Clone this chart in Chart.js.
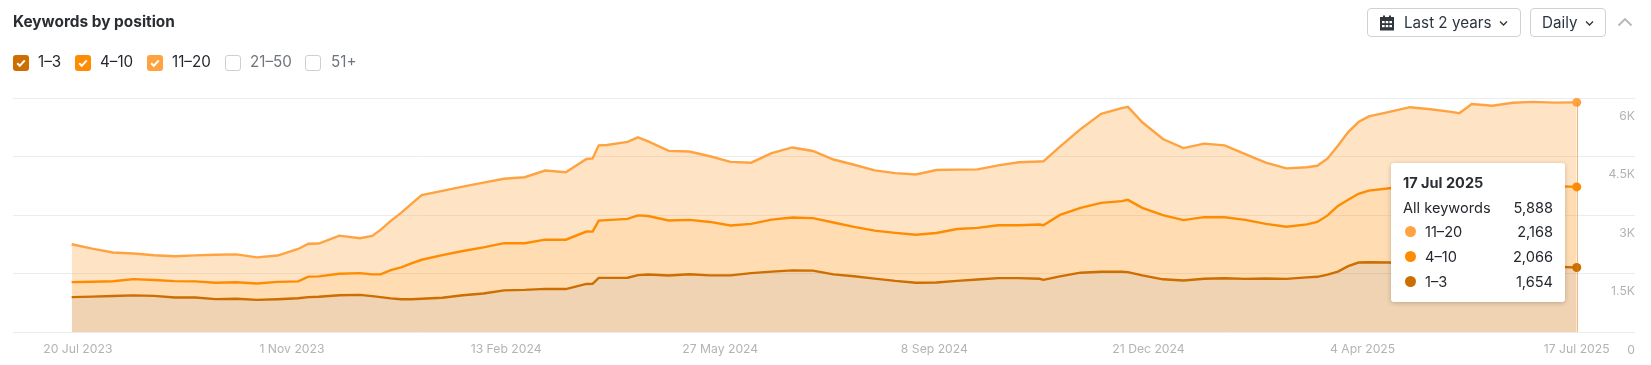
<!DOCTYPE html>
<html><head><meta charset="utf-8">
<script src="https://cdn.jsdelivr.net/npm/chart.js@4"></script>
<style>
html,body{margin:0;padding:0;background:#fff;width:1651px;height:365px;overflow:hidden;font-family:Inter,sans-serif;color:#24282e}
#c{position:absolute;left:0;top:0}
.abs{position:absolute}
#title{left:13px;top:13px;font-size:15.4px;font-weight:700;line-height:18px;color:#2a2e33;white-space:nowrap}
.box{position:absolute;top:55px;width:16px;height:16px;border-radius:3px;box-sizing:border-box}
.box svg{display:block}
.lg{position:absolute;top:53px;font-size:15.2px;line-height:18px;white-space:nowrap}
.btn{position:absolute;top:8px;height:29px;box-sizing:border-box;border:1px solid #cfd1d4;border-radius:4px;background:#fff;font-size:15.2px;line-height:27px;white-space:nowrap;color:#2b3440}
#tip{position:absolute;left:1391px;top:163px;width:174px;height:139px;background:#fff;border-radius:3px;box-shadow:0 1px 5px rgba(0,0,0,.22);font-size:14.6px}
#tip div{position:absolute;white-space:nowrap;line-height:18px}
</style></head><body>
<canvas id="c" width="1651" height="365"></canvas>
<div id="title" class="abs">Keywords by position</div>
<div id="legend"></div>
<div class="btn" style="left:1367px;width:154px">
  <svg class="abs" style="left:11px;top:6px" width="16" height="16" viewBox="0 0 16 16"><path fill="#33373c" d="M1 2h3V0.5h2V2h4V0.5h2V2h3v13.5H1z"/><g fill="#fff"><rect x="3" y="6" width="2.6" height="2.2"/><rect x="6.7" y="6" width="2.6" height="2.2"/><rect x="10.4" y="6" width="2.6" height="2.2"/><rect x="3" y="10" width="2.6" height="2.2"/><rect x="6.7" y="10" width="2.6" height="2.2"/><rect x="10.4" y="10" width="2.6" height="2.2"/></g></svg>
  <span class="abs" style="left:36px;top:0">Last 2 years</span>
  <svg class="abs" style="left:131px;top:11px" width="9" height="7" viewBox="0 0 9 7"><path d="M1 1.5l3.5 3.5 3.5-3.5" fill="none" stroke="#333" stroke-width="1.3"/></svg>
</div>
<div class="btn" style="left:1530px;width:76px">
  <span class="abs" style="left:11px;top:0">Daily</span>
  <svg class="abs" style="left:54px;top:11px" width="9" height="7" viewBox="0 0 9 7"><path d="M1 1.5l3.5 3.5 3.5-3.5" fill="none" stroke="#333" stroke-width="1.3"/></svg>
</div>
<svg class="abs" style="left:1617px;top:17px" width="16" height="10" viewBox="0 0 16 10"><path d="M1.5 8.5L8 2l6.5 6.5" fill="none" stroke="#b4b6b8" stroke-width="1.8"/></svg>
<div id="tip"></div>
<script>
const titleText = "Keywords by position";
const seriesNames = ["1–3", "4–10", "11–20"];
const seriesColors = ["#cc6e00", "#ff8c00", "#ffa340"];
const offNames = ["21–50", "51+"];
const xTickDays = [3, 107, 211, 315, 419, 523, 627, 731];
const xTickLabels = ["20 Jul 2023", "1 Nov 2023", "13 Feb 2024", "27 May 2024", "8 Sep 2024", "21 Dec 2024", "4 Apr 2025", "17 Jul 2025"];
const yTickLabels = ["0", "1.5K", "3K", "4.5K", "6K"];
const days = [0,10,20,30,40,50,60,70,80,90,100,110,115,120,130,140,146,150,155,160,165,170,180,190,200,210,220,230,240,250,253,256,260,270,275,280,290,300,310,320,330,340,350,360,370,380,390,400,410,420,430,440,450,460,470,472,480,490,500,510,513,520,530,540,550,560,570,580,590,600,605,610,615,620,625,630,640,650,660,670,674,680,690,700,710,720,731];
const pos1to3 = [893,906,924,939,926,885,885,844,854,823,841,867,893,903,944,952,919,893,862,841,841,854,880,944,988,1068,1081,1106,1101,1232,1235,1387,1387,1392,1459,1474,1449,1479,1451,1451,1510,1549,1580,1575,1477,1428,1369,1310,1263,1271,1312,1346,1382,1382,1366,1338,1428,1521,1546,1546,1536,1451,1351,1320,1364,1379,1361,1371,1361,1400,1415,1472,1549,1690,1781,1788,1781,1755,1737,1721,1716,1711,1701,1690,1683,1675,1654];
const pos4to10 = [386,381,378,417,407,419,414,417,422,419,443,432,527,522,548,558,558,584,726,818,919,998,1091,1132,1181,1212,1194,1261,1266,1343,1338,1469,1482,1508,1531,1500,1410,1395,1371,1279,1261,1333,1356,1346,1330,1266,1230,1232,1230,1268,1330,1323,1356,1356,1389,1400,1575,1662,1765,1811,1853,1732,1644,1549,1582,1562,1513,1402,1338,1359,1407,1518,1685,1703,1763,1837,1904,1943,1968,1992,1999,2010,2028,2043,2056,2066,2066];
const pos11to20 = [970,849,736,656,636,638,666,718,715,672,677,829,844,844,978,893,985,1140,1261,1395,1526,1657,1649,1652,1662,1649,1693,1773,1729,1860,1878,1930,1925,1976,2002,1912,1786,1755,1685,1631,1570,1706,1796,1721,1616,1595,1544,1531,1546,1613,1521,1500,1534,1616,1616,1636,1750,2020,2285,2385,2385,2195,1953,1847,1883,1845,1685,1572,1497,1464,1441,1461,1544,1732,1840,1904,1958,2066,2007,1932,1894,2125,2074,2146,2161,2141,2168];
const tipDate = "17 Jul 2025";
const tipAllLabel = "All keywords";
const tipAll = "5,888";
const tipRows = ["2,168", "2,066", "1,654"];

document.getElementById('title').textContent = titleText;

/* legend checkboxes */
const legend = document.getElementById('legend');
const check = '<svg width="16" height="16" viewBox="0 0 16 16"><path d="M4.2 8.2l2.6 2.6 5-5.4" fill="none" stroke="#fff" stroke-width="2"/></svg>';
[[13,38],[75,100],[147,172]].forEach((p,i)=>{
  legend.insertAdjacentHTML('beforeend',
    `<div class="box" style="left:${p[0]}px;background:${seriesColors[i]}">${check}</div><div class="lg" style="left:${p[1]}px">${seriesNames[i]}</div>`);
});
[[225,250],[305,331]].forEach((p,i)=>{
  legend.insertAdjacentHTML('beforeend',
    `<div class="box" style="left:${p[0]}px;border:1px solid #cdcfd1;background:#fff"></div><div class="lg" style="left:${p[1]}px;color:#70757b">${offNames[i]}</div>`);
});

/* tooltip */
const tip = document.getElementById('tip');
let h = `<div style="left:12px;top:11px;font-weight:700;font-size:14.5px;color:#2a2e33">${tipDate}</div>`;
h += `<div style="left:12px;top:36px">${tipAllLabel}</div><div style="right:12px;top:36px">${tipAll}</div>`;
[2,1,0].forEach((s,i)=>{
  const y = 60 + i*25;
  h += `<div style="left:14px;top:${y+3}px;width:11px;height:11px;border-radius:50%;background:${seriesColors[s]}"></div>`;
  h += `<div style="left:34px;top:${y}px">${seriesNames[s]}</div><div style="right:12px;top:${y}px">${tipRows[i]}</div>`;
});
tip.innerHTML = h;

function fillOf(hex){
  const n=parseInt(hex.slice(1),16);
  return `rgba(${n>>16},${(n>>8)&255},${n&255},0.3)`;
}
const last = days.length-1;
function ds(i,vals,fill){
  return {label:seriesNames[i],data:days.map((d,k)=>({x:d,y:vals[k]})),borderColor:seriesColors[i],backgroundColor:fillOf(seriesColors[i]),
    borderWidth:2.4,fill:fill,tension:0,
    pointRadius:c=>c.dataIndex===last?4.5:0,pointBackgroundColor:seriesColors[i],pointBorderWidth:0,pointHoverRadius:4.5};
}
const edgeLine = {id:'edgeLine',afterDatasetsDraw(ch){
  const top = ch.getDatasetMeta(2).data[last];
  const g = ch.ctx; g.save();
  g.strokeStyle='rgba(230,130,30,0.55)'; g.lineWidth=1;
  const x=Math.round(top.x)+0.5;
  g.beginPath(); g.moveTo(x,top.y); g.lineTo(x,ch.scales.y.getPixelForValue(0)); g.stroke();
  g.restore();
}};
new Chart(document.getElementById('c'),{
  type:'line',
  data:{datasets:[ds(0,pos1to3,'origin'),ds(1,pos4to10,'-1'),ds(2,pos11to20,'-1')]},
  plugins:[edgeLine],
  options:{
    responsive:false,animation:false,
    events:[],
    layout:{padding:{left:13,right:16,top:98,bottom:0}},
    plugins:{legend:{display:false},tooltip:{enabled:false}},
    scales:{
      x:{type:'linear',min:-28.5,max:759.3,
        afterBuildTicks(a){a.ticks=xTickDays.map(v=>({value:v}));},
        afterFit(a){a.height=33;},
        grid:{display:false},border:{display:false},
        ticks:{autoSkip:false,maxRotation:0,padding:2,color:'#b3b3b3',font:{family:'Inter',size:12.2},
          callback:(v)=>xTickLabels[xTickDays.indexOf(v)]}},
      y:{type:'linear',position:'right',stacked:true,min:0,max:6000,
        afterBuildTicks(a){a.ticks=yTickLabels.map((_,i)=>({value:i*1500}));},
        afterFit(a){a.width=0;},
        grid:{color:'#ececec',lineWidth:1,drawTicks:false},border:{display:false},
        ticks:{mirror:true,padding:0,labelOffset:18,color:'#b3b3b3',font:{family:'Inter',size:12.2},
          callback:(v)=>yTickLabels[v/1500]}}
    }
  }
});
</script>
</body></html>
